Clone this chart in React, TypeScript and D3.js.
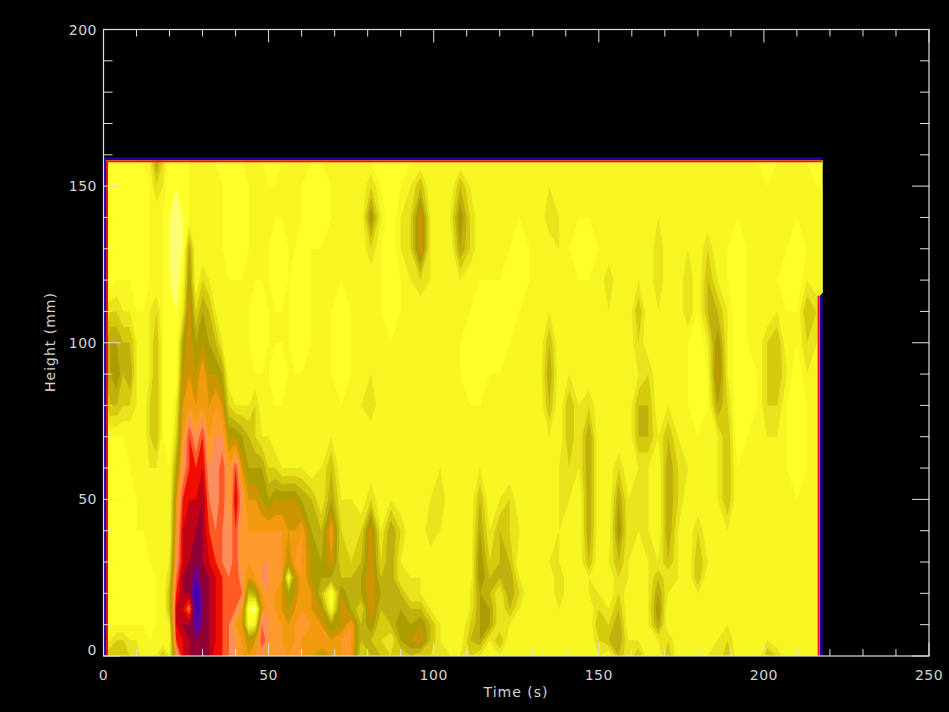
import * as d3 from "d3";

const WIDTH = 949;
const HEIGHT = 712;

// grid the slices are sampled on
const times = [...d3.range(0, 61, 2), ...d3.range(63, 220, 3)];
const heights = [0, 5, 10, 15, 20, 25, 30, 40, 50, 60, 70, 80, 90, 100, 110, 120, 130, 140, 150, 158];

// one row per time, bottom to top
const slices = [
  [4,2,2,1,1,1,1,1,1,1,1,3,4,4,3,1,1,1,1,1], // 0
  [5,3,2,1,1,1,1,1,1,1,2,5,6,6,4,1,1,1,1,1],
  [5,4,2,1,1,1,1,1,1,1,2,5,7,6,4,2,1,1,1,1],
  [5,4,2,1,1,1,1,1,1,1,2,4,5,5,3,2,1,1,1,1],
  [4,3,2,1,1,1,1,1,1,2,2,4,6,5,3,2,1,1,1,1],
  [4,3,2,1,1,1,1,2,2,2,2,3,3,3,2,1,1,1,1,2], // 10
  [2,2,2,1,1,1,1,2,2,2,2,2,2,2,2,1,1,1,1,2],
  [2,2,1,1,1,1,2,2,2,3,4,4,3,3,3,2,2,2,2,3],
  [3,2,2,2,2,2,2,2,2,3,5,5,5,5,4,2,2,2,4,6],
  [5,2,2,2,2,2,2,2,2,2,2,2,2,2,2,2,2,2,3,4],
  [3,2,3,5,5,4,3,2,2,2,1,1,1,1,1,1,1,1,1,1], // 20
  [9,12,13,13,12,11,10,9,8,6,4,3,1,1,1,0,0,0,1,1],
  [13,13,14,13,14,14,13,13,12,10,9,8,7,6,3,2,1,1,1,1],
  [14,14,14,11,14,14,14,13,13,12,12,9,8,8,8,7,6,2,2,2],
  [14,15,16,17,17,16,15,14,13,12,10,8,7,6,4,2,2,2,2,2],
  [14,14,15,15,15,14,14,14,14,13,12,9,9,7,6,4,2,2,2,2], // 30
  [14,14,14,14,14,14,13,12,11,10,9,8,7,6,5,3,2,2,2,2],
  [12,13,13,13,13,13,12,11,10,10,10,9,7,5,3,2,2,2,2,2],
  [12,12,12,12,12,12,11,11,12,12,10,8,6,3,2,2,2,2,2,1],
  [11,11,11,11,11,11,10,10,9,9,7,4,2,2,2,2,1,1,1,1],
  [10,10,9,11,12,12,12,12,13,12,7,3,2,2,2,2,1,1,1,1], // 40
  [9,9,8,9,11,10,9,9,10,8,6,3,2,2,2,2,1,1,1,2],
  [8,7,2,1,5,8,9,9,8,6,5,3,2,2,2,2,2,2,2,2],
  [9,8,3,0,6,9,9,9,8,6,4,4,2,1,1,2,2,2,2,2],
  [10,12,11,8,9,10,10,9,7,6,3,2,2,1,1,2,2,2,2,2],
  [9,10,10,10,10,10,10,9,6,4,3,2,2,2,2,2,2,2,2,1], // 50
  [9,9,9,9,9,9,9,9,7,4,2,2,1,2,2,1,1,2,2,1],
  [9,9,9,8,8,9,9,9,7,3,2,2,1,2,2,1,1,2,2,2],
  [9,8,8,7,6,2,7,8,7,3,2,2,2,2,2,2,2,2,2,2],
  [9,9,9,8,7,7,9,8,7,3,2,2,2,1,1,1,2,2,2,2],
  [9,9,9,9,9,9,9,9,6,3,2,2,2,1,1,1,1,2,2,2], // 60
  [8,8,9,8,8,7,7,6,5,2,2,2,2,2,2,2,2,1,1,2],
  [7,9,8,7,5,6,6,5,3,3,2,2,2,2,2,2,2,1,1,2],
  [8,8,6,2,1,6,8,9,6,5,3,2,2,2,2,2,2,2,2,2],
  [9,9,7,8,7,5,4,4,3,2,2,2,1,1,1,2,2,2,2,2],
  [9,9,9,6,5,5,4,3,3,2,2,2,2,2,2,2,2,2,2,2], // 75
  [4,5,5,4,6,6,5,4,2,2,2,3,2,2,2,2,2,2,2,2],
  [5,5,7,8,8,8,8,8,4,2,2,4,3,2,2,2,4,7,4,2],
  [5,4,4,5,6,5,4,3,2,2,2,2,2,2,2,2,2,3,2,1],
  [4,3,5,5,5,6,6,6,3,2,2,2,2,2,1,1,1,1,1,1],
  [4,6,7,6,5,3,3,4,2,2,2,2,2,2,2,2,3,3,2,1], // 90
  [5,7,6,5,3,3,2,2,2,2,2,2,2,2,2,3,4,4,3,2],
  [4,8,7,5,3,3,2,2,2,2,2,2,2,2,2,4,8,8,5,2], // 96
  [4,5,5,3,2,2,2,4,3,2,2,2,2,2,2,3,3,3,2,2],
  [3,3,3,2,2,2,2,3,4,3,2,2,2,2,2,2,2,2,2,2],
  [3,2,2,2,2,2,2,2,2,2,2,2,2,2,2,2,2,3,2,2], // 105
  [3,2,2,2,2,2,2,2,2,2,2,2,2,2,2,3,6,7,5,2],
  [4,5,4,3,3,2,2,2,2,2,2,2,1,1,2,2,4,4,3,2],
  [3,6,6,6,6,7,7,6,5,3,2,2,1,1,1,2,2,2,2,2], // 114
  [2,3,6,6,5,5,4,3,2,2,2,2,2,1,1,2,3,3,2,2],
  [3,5,3,3,3,5,5,5,3,2,2,2,2,1,1,2,2,2,2,2],
  [2,2,3,5,6,6,5,4,4,2,2,2,2,2,1,1,2,2,2,2], // 123
  [2,2,2,3,4,3,2,3,2,2,2,2,2,2,2,1,1,2,2,2],
  [2,2,2,2,2,2,2,2,2,2,2,2,2,2,2,2,2,2,2,2],
  [2,2,2,2,2,2,2,3,3,2,2,2,2,2,2,2,2,2,2,2], // 132
  [2,2,2,2,2,2,3,2,2,2,3,5,6,5,3,2,2,4,3,2],
  [2,2,2,3,4,4,3,3,3,3,2,2,2,2,2,2,3,3,2,2],
  [2,2,2,2,2,2,2,2,3,4,5,5,3,2,2,2,2,2,2,2], // 141
  [2,2,2,2,2,2,2,2,2,3,3,3,2,2,2,2,1,2,2,2],
  [2,2,2,2,3,3,5,6,6,6,6,4,2,2,2,2,1,2,2,2],
  [3,4,5,4,3,2,2,2,2,2,2,2,2,2,2,2,2,2,3,3], // 150
  [2,5,4,3,2,2,3,2,2,2,2,2,2,2,3,4,2,2,2,2],
  [5,6,6,5,4,4,5,7,6,4,2,2,2,2,2,2,2,2,2,2],
  [3,3,2,2,2,3,3,3,3,2,2,2,2,2,2,2,2,2,2,2], // 159
  [5,3,2,2,2,2,2,3,3,3,5,5,3,4,5,3,2,2,2,2],
  [2,2,3,3,3,3,3,3,3,3,5,5,4,2,2,2,2,2,2,2],
  [2,3,6,7,6,5,3,2,2,2,3,2,2,2,3,4,4,3,2,2], // 168
  [5,4,2,2,3,3,5,6,6,6,5,3,2,2,2,2,2,2,2,2],
  [2,2,2,2,2,3,3,3,4,4,3,2,2,2,2,2,2,2,2,2],
  [2,3,2,2,2,2,2,2,2,3,2,2,2,2,4,4,3,2,2,2], // 177
  [2,2,2,2,3,5,5,4,2,2,2,1,1,1,2,2,2,2,2,2],
  [3,2,2,2,2,2,3,2,2,2,2,2,2,3,5,5,4,2,2,2],
  [3,3,2,2,2,2,2,2,3,3,3,6,8,7,5,3,2,2,2,2], // 186
  [5,4,3,3,2,2,2,3,5,5,5,4,3,3,3,2,2,2,2,2],
  [2,2,2,2,2,2,2,2,2,2,1,1,1,1,1,1,1,2,2,2],
  [2,2,2,2,2,2,2,2,2,2,2,1,1,2,2,2,2,2,2,2], // 195
  [2,2,2,2,2,2,2,2,2,2,2,2,2,2,2,2,2,2,2,2],
  [5,3,2,2,2,2,2,2,2,2,3,4,4,4,2,2,2,2,2,1],
  [4,2,2,2,2,2,2,2,2,2,3,4,5,5,3,2,2,2,2,2], // 204
  [2,2,2,2,3,3,2,2,2,2,2,2,3,2,2,1,2,2,2,2],
  [2,2,2,2,2,2,2,2,2,1,1,1,1,2,2,1,1,2,2,2],
  [2,3,2,2,2,2,2,2,2,2,2,2,3,4,5,3,2,2,2,2], // 213
  [2,3,2,2,2,2,2,2,2,2,2,2,2,3,4,2,2,2,2,1],
  [2,2,2,2,2,2,2,2,2,2,2,2,2,2,3,2,2,2,2,1],
];

const levels = d3.range(-1, 17);
const levelColors = [
  "#ffff70", "#ffff70", "#ffff2a", "#f6f622", "#e8e31a", "#d6ca10", "#c0b008", "#ac9c00", "#cc9400",
  "#f29a08", "#fd9a2c", "#fa8e5c", "#ff5a26", "#f01000", "#c20012", "#8e0034", "#6a0090", "#4000b4",
];

const xTicks = [0, 50, 100, 150, 200, 250];
const yTicks = [0, 50, 100, 150, 200];
const xMinor = d3.range(0, 251, 10);
const yMinor = d3.range(0, 201, 10);

// edge of the sampled area in data units (time, height)
const areaOutline: [number, number][] = [[0.75, 0], [0.75, 158.3], [217.7, 158.3], [217.7, 116], [216.9, 115], [216.9, 0]];
const leftTopEdge: [number, number][] = [[0.75, 0], [0.75, 158.3], [217.7, 158.3]];
const rightEdge: [number, number][] = [[216.9, 115], [216.9, 0]];

const x = d3.scaleLinear().domain([0, 250]).range([103.5, 929]);
const y = d3.scaleLinear().domain([0, 200]).range([656, 29.5]);

const timeAt = d3.scaleLinear().domain(d3.range(times.length)).range(times);
const heightAt = d3.scaleLinear().domain(d3.range(heights.length)).range(heights);

const flat: number[] = [];
heights.forEach((_, j) => times.forEach((_, i) => flat.push(slices[i][j])));

const contours = d3.contours().size([times.length, heights.length]).thresholds(levels)(flat);

const gridPath = d3.geoPath(
  d3.geoTransform({
    point(px, py) {
      this.stream.point(x(timeAt(px - 0.5)), y(heightAt(py - 0.5)));
    },
  })
);

const dataLine = d3.line<[number, number]>().x((d) => x(d[0])).y((d) => y(d[1]));

const FRAME = "#e0e0e0";
const FONT = "'DejaVu Sans', sans-serif";

export default function App() {
  const left = x(0);
  const right = x(250);
  const top = y(200);
  const bottom = y(0);

  return (
    <svg
      width={WIDTH}
      height={HEIGHT}
      style={{ position: "absolute", left: 0, top: 0, background: "#000" }}
    >
      <defs>
        <clipPath id="area">
          <path d={dataLine(areaOutline) + "Z"} />
        </clipPath>
        <filter id="soft" x="-2%" y="-2%" width="104%" height="104%">
          <feGaussianBlur stdDeviation="0.6" />
        </filter>
      </defs>
      <rect width={WIDTH} height={HEIGHT} fill="#000" />

      <g filter="url(#soft)">
        <path d={dataLine(leftTopEdge) ?? ""} fill="none" stroke="#1c00a0" strokeWidth={6} />
        <path d={dataLine(rightEdge) ?? ""} fill="none" stroke="#1c00a0" strokeWidth={6} />
        <g clipPath="url(#area)">
          {contours.map((c, i) => (
            <path key={i} d={gridPath(c) ?? ""} fill={levelColors[i]} />
          ))}
          <path d={dataLine(leftTopEdge) ?? ""} fill="none" stroke="#e81030" strokeWidth={4} />
          <path d={dataLine(rightEdge) ?? ""} fill="none" stroke="#e81030" strokeWidth={4} />
        </g>
      </g>

      <rect x={left} y={top} width={right - left} height={bottom - top} fill="none" stroke={FRAME} strokeWidth={1.2} />

      <g stroke={FRAME} strokeWidth={1}>
        {xMinor.map((t) => {
          const len = t % 50 === 0 ? 13 : 7;
          return (
            <g key={t}>
              <line x1={x(t)} x2={x(t)} y1={bottom} y2={bottom - len} />
              <line x1={x(t)} x2={x(t)} y1={top} y2={top + len} />
            </g>
          );
        })}
        {yMinor.map((h) => {
          const len = h % 50 === 0 ? 17 : 9;
          return (
            <g key={h}>
              <line x1={left} x2={left + len} y1={y(h)} y2={y(h)} />
              <line x1={right} x2={right - len} y1={y(h)} y2={y(h)} />
            </g>
          );
        })}
      </g>

      <g fill="#d4d4d4" fontFamily={FONT} fontSize={14}>
        {xTicks.map((t) => (
          <text key={t} x={x(t)} y={680} textAnchor="middle" letterSpacing={0.5}>{t}</text>
        ))}
        {yTicks.map((h) => (
          <text key={h} x={97} y={h === 0 ? 655 : y(h) + 5} textAnchor="end" letterSpacing={0.5}>{h}</text>
        ))}
        <text x={516} y={697} textAnchor="middle" letterSpacing={1}>Time (s)</text>
        <text transform="translate(55,342) rotate(-90)" textAnchor="middle" letterSpacing={1}>Height (mm)</text>
      </g>
    </svg>
  );
}
